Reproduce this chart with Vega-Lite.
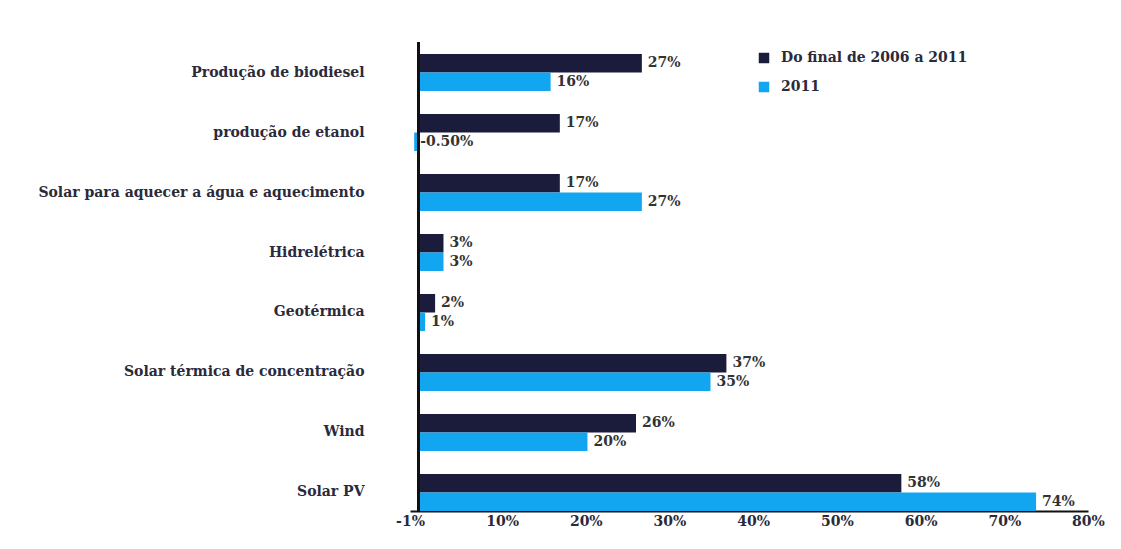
{
  "$schema": "https://vega.github.io/schema/vega-lite/v6.json",
  "autosize": "none",
  "padding": {"left": 410, "top": 42, "right": 33, "bottom": 38},
  "width": 678,
  "height": 469,
  "background": "white",
  "config": {"view": {"stroke": null}},
  "data": {"values": [
    {"cat": "Produção de biodiesel", "series": "Do final de 2006 a 2011", "value": 0.267, "label": "27%"},
    {"cat": "Produção de biodiesel", "series": "2011", "value": 0.158, "label": "16%"},
    {"cat": "produção de etanol", "series": "Do final de 2006 a 2011", "value": 0.169, "label": "17%"},
    {"cat": "produção de etanol", "series": "2011", "value": -0.005, "label": "-0.50%"},
    {"cat": "Solar para aquecer a água e aquecimento", "series": "Do final de 2006 a 2011", "value": 0.169, "label": "17%"},
    {"cat": "Solar para aquecer a água e aquecimento", "series": "2011", "value": 0.267, "label": "27%"},
    {"cat": "Hidrelétrica", "series": "Do final de 2006 a 2011", "value": 0.03, "label": "3%"},
    {"cat": "Hidrelétrica", "series": "2011", "value": 0.03, "label": "3%"},
    {"cat": "Geotérmica", "series": "Do final de 2006 a 2011", "value": 0.02, "label": "2%"},
    {"cat": "Geotérmica", "series": "2011", "value": 0.008, "label": "1%"},
    {"cat": "Solar térmica de concentração", "series": "Do final de 2006 a 2011", "value": 0.368, "label": "37%"},
    {"cat": "Solar térmica de concentração", "series": "2011", "value": 0.349, "label": "35%"},
    {"cat": "Wind", "series": "Do final de 2006 a 2011", "value": 0.26, "label": "26%"},
    {"cat": "Wind", "series": "2011", "value": 0.202, "label": "20%"},
    {"cat": "Solar PV", "series": "Do final de 2006 a 2011", "value": 0.577, "label": "58%"},
    {"cat": "Solar PV", "series": "2011", "value": 0.738, "label": "74%"}
  ]},
  "encoding": {
    "y": {
      "field": "cat", "type": "nominal",
      "sort": ["Produção de biodiesel", "produção de etanol", "Solar para aquecer a água e aquecimento", "Hidrelétrica", "Geotérmica", "Solar térmica de concentração", "Wind", "Solar PV"],
      "scale": {"paddingInner": 0.383, "paddingOuter": 0.1, "align": 1},
      "axis": {"title": null, "domain": false, "ticks": false, "labelPadding": 46, "labelLimit": 400, "labelFont": "DejaVu Serif", "labelFontWeight": "bold", "labelFontSize": 14, "labelColor": "#2a2a3a"}
    },
    "yOffset": {"field": "series", "type": "nominal", "sort": ["Do final de 2006 a 2011", "2011"], "scale": {"paddingInner": 0, "paddingOuter": 0}},
    "x": {
      "field": "value", "type": "quantitative",
      "scale": {"domain": [-0.01, 0.8], "nice": false, "zero": false},
      "axis": {"title": null, "values": [-0.01, 0.1, 0.2, 0.3, 0.4, 0.5, 0.6, 0.7, 0.8], "format": ".0%", "labelExpr": "replace(datum.label, '−', '-')", "grid": false, "ticks": false, "domainColor": "#111111", "domainWidth": 2, "labelPadding": 3, "labelFont": "DejaVu Serif", "labelFontWeight": "bold", "labelFontSize": 14, "labelColor": "#2a2a3a", "labelFlush": false}
    }
  },
  "layer": [
    {
      "mark": {"type": "bar"},
      "encoding": {
        "color": {
          "field": "series", "type": "nominal",
          "scale": {"domain": ["Do final de 2006 a 2011", "2011"], "range": ["#1b1b3b", "#12a5f0"]},
          "legend": {"title": null, "orient": "none", "legendX": 347, "legendY": 9, "symbolType": "square", "symbolSize": 110, "symbolStrokeWidth": 0, "labelLimit": 400, "labelFont": "DejaVu Serif", "labelFontWeight": "bold", "labelFontSize": 14, "labelColor": "#2a2a3a", "rowPadding": 15, "labelOffset": 10}
        }
      }
    },
    {
      "mark": {"type": "text", "align": "left", "baseline": "middle", "dx": 6, "font": "DejaVu Serif", "fontWeight": "bold", "fontSize": 14, "color": "#333333"},
      "encoding": {"text": {"field": "label"}}
    },
    {
      "mark": {"type": "rule", "color": "#111111", "strokeWidth": 2},
      "encoding": {"x": {"datum": 0}, "y": null, "yOffset": null}
    }
  ]
}
